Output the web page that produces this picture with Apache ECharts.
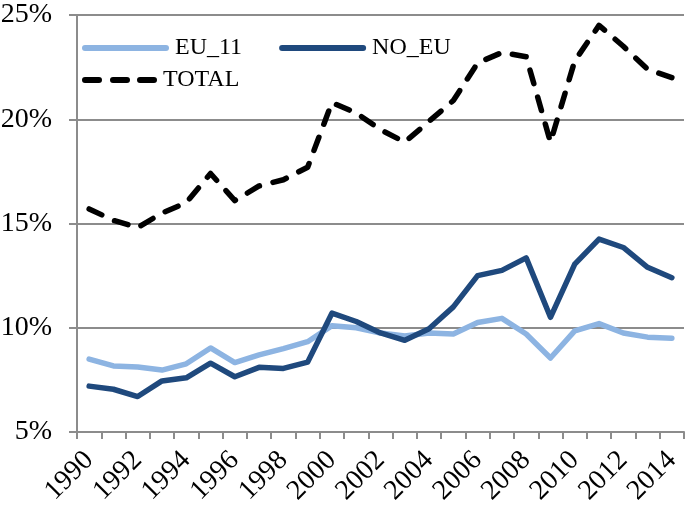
<!DOCTYPE html>
<html><head><meta charset="utf-8">
<script src="https://cdn.jsdelivr.net/npm/echarts@6/dist/echarts.min.js"></script>
<style>html,body{margin:0;padding:0;background:#fff}#c{width:685px;height:506px}</style>
</head><body><div id="c"></div>
<script>
const years = ['1990','1991','1992','1993','1994','1995','1996','1997','1998','1999','2000','2001','2002','2003','2004','2005','2006','2007','2008','2009','2010','2011','2012','2013','2014'];
const eu11 = [8.5,8.17,8.12,7.97,8.27,9.03,8.33,8.7,9.0,9.33,10.1,10.0,9.75,9.6,9.75,9.7,10.25,10.45,9.7,8.55,9.85,10.2,9.75,9.55,9.5];
const noEu = [7.2,7.05,6.7,7.45,7.6,8.3,7.65,8.1,8.05,8.35,10.7,10.3,9.75,9.4,9.95,11.0,12.5,12.75,13.35,10.5,13.05,14.25,13.85,12.9,12.4];
const total = [15.7,15.15,14.8,15.5,16.0,17.4,16.1,16.8,17.1,17.7,20.8,20.3,19.5,18.9,19.9,20.9,22.7,23.2,23.0,18.9,22.8,24.5,23.5,22.4,22.0];
const yMin = 5, yMax = 25, yStep = 5;

const font = "'Liberation Serif', 'Times New Roman', serif";
const legendText = {fontFamily:font,fontSize:24,color:'#000',padding:[0,0,0,1]};
const dashIcon = 'path://M3,0h14a3,3 0 0 1 0,6h-14a3,3 0 0 1 0,-6z M31,0h14a3,3 0 0 1 0,6h-14a3,3 0 0 1 0,-6z M58,0h14a3,3 0 0 1 0,6h-14a3,3 0 0 1 0,-6z';
const solidIcon = 'path://M3,0h81a3,3 0 0 1 0,6h-81a3,3 0 0 1 0,-6z';
const chart = echarts.init(document.getElementById('c'), null, {renderer:'canvas'});
chart.setOption({
  animation:false,
  grid:{left:77,right:1,top:15,bottom:74,containLabel:false,outerBoundsMode:'none'},
  legend:[
    {left:82, top:36, itemWidth:87, itemHeight:6, itemGap:37, padding:0, symbolKeepAspect:false,
     textStyle:legendText,
     data:[{name:'EU_11',icon:solidIcon,itemStyle:{color:'#8db4e2'}},{name:'NO_EU',icon:solidIcon,itemStyle:{color:'#1f497d'}}]},
    {left:82, top:68, itemWidth:75, itemHeight:6, itemGap:37, padding:0, symbolKeepAspect:false,
     textStyle:legendText,
     data:[{name:'TOTAL',icon:dashIcon,itemStyle:{color:'#000'}}]}
  ],
  xAxis:{
    type:'category', data:years, boundaryGap:true,
    axisLine:{lineStyle:{color:'#8c8c8c',width:2}},
    axisTick:{show:true,length:7,interval:0,lineStyle:{color:'#8c8c8c',width:2}},
    axisLabel:{interval:1,rotate:45,fontFamily:font,fontSize:28,color:'#000',margin:24},
    splitLine:{show:false}
  },
  yAxis:{
    type:'value', min:yMin, max:yMax, interval:yStep,
    axisLine:{show:true,lineStyle:{color:'#8c8c8c',width:2}},
    axisTick:{show:true,length:8,lineStyle:{color:'#8c8c8c',width:2}},
    axisLabel:{formatter:v=>v+'%',fontFamily:font,fontSize:28,color:'#000',margin:25},
    splitLine:{show:true,lineStyle:{color:'#8c8c8c',width:2}}
  },
  series:[
    {name:'EU_11',type:'line',data:eu11,symbol:'none',color:'#8db4e2',
     lineStyle:{width:5.5,color:'#8db4e2',cap:'round',join:'round'}},
    {name:'NO_EU',type:'line',data:noEu,symbol:'none',color:'#1f497d',
     lineStyle:{width:5.5,color:'#1f497d',cap:'round',join:'round'}},
    {name:'TOTAL',type:'line',data:total,symbol:'none',color:'#000',
     lineStyle:{width:5.5,color:'#000',type:[14,14],cap:'round',join:'round'}}
  ]
});
</script></body></html>
